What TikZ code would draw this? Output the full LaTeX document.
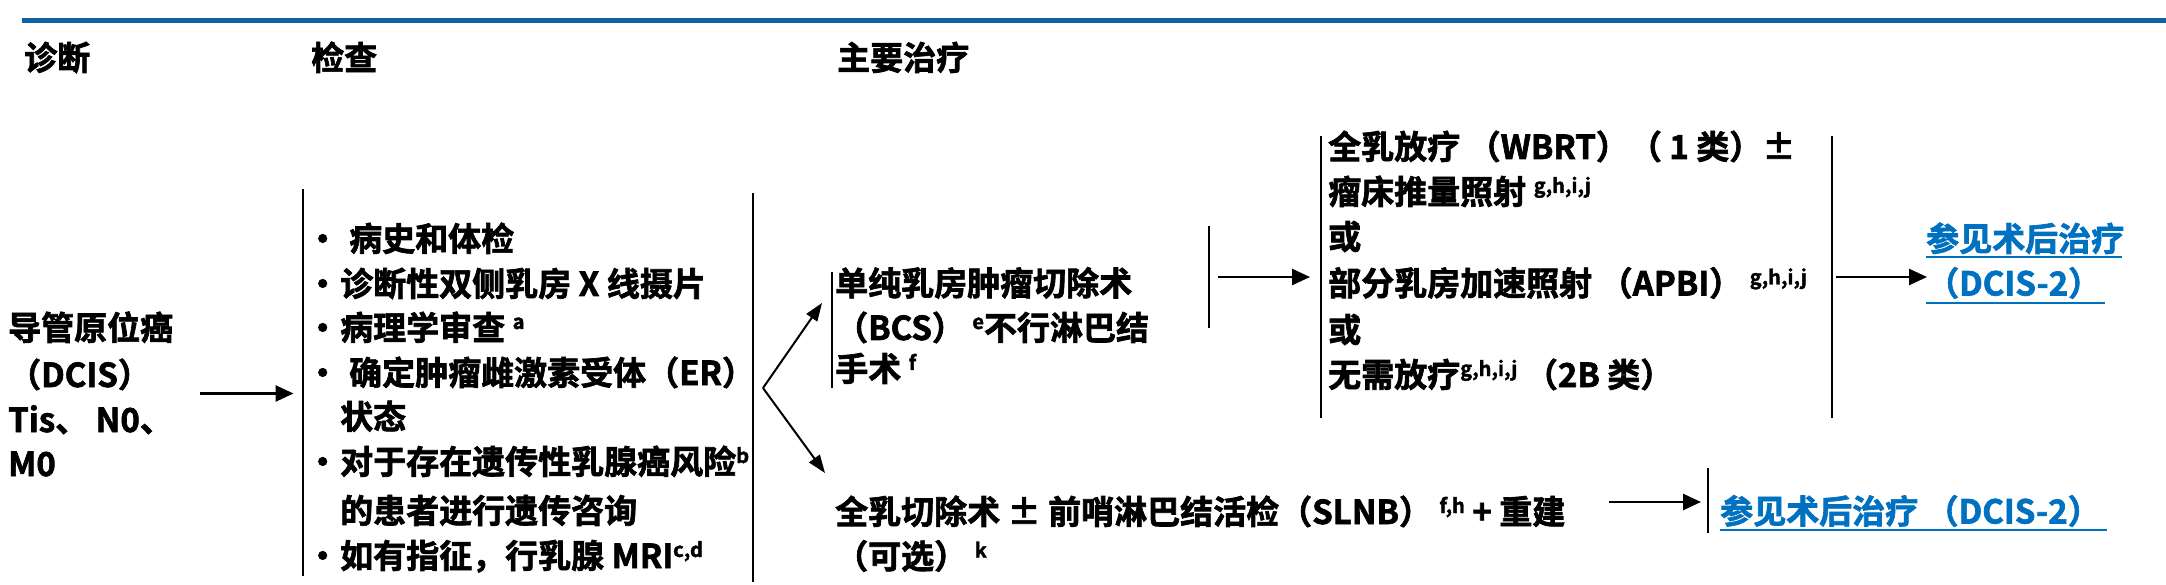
\documentclass[tikz,border=0pt]{standalone}
\usepackage{fontspec}
\setmainfont{Noto Sans CJK SC}[BoldFont={* Bold},BoldFeatures={FakeBold=2}]
\usetikzlibrary{arrows.meta}
\definecolor{topblue}{RGB}{14,98,163}
\definecolor{linkblue}{RGB}{0,112,192}
\newcommand\supr[1]{\raisebox{11pt}{\fontsize{20}{20}\selectfont #1}}
\newcommand\bul{\makebox[24pt][l]{\hspace{-10pt}•}}
\begin{document}
\begin{tikzpicture}[x=1pt,y=-1pt,
  txt/.style={anchor=base west,inner sep=0pt,font=\bfseries\fontsize{33}{45}\selectfont},
  link/.style={txt,text=linkblue},
  bar/.style={line width=2pt,draw=black},
  ul/.style={line width=2pt,draw=linkblue},
  arr/.style={line width=2.6pt,-{Triangle[length=18pt,width=16pt]}},
  brarr/.style={line width=2pt,-{Triangle[length=18pt,width=13pt]}}]
\useasboundingbox (0,0) rectangle (2166,585);
% top rule
\coordinate (tl) at (22,21);
\coordinate (tr) at (2166,21);
\draw[line width=5pt,topblue] (tl) -- (tr);
% headers
\node[txt] (h1) at (24,70) {诊断};
\node[txt] (h2) at (311,70) {检查};
\node[txt] (h3) at (837,70) {主要治疗};
% diagnosis
\node[txt] (d1) at (8,340) {导管原位癌};
\node[txt] (d2) at (8,387) {（DCIS）};
\node[txt] (d3) at (8,432) {Tis、 N0、};
\node[txt] (d4) at (8,476) {M0};
% workup box
\coordinate (wl1) at (302.5,189); \coordinate (wl2) at (302.5,576);
\coordinate (wr1) at (753,193); \coordinate (wr2) at (753,582);
\draw[bar] (wl1) -- (wl2);
\draw[bar] (wr1) -- (wr2);
\node[txt] (e1) at (316,251) {\bul{}\hspace{9pt}病史和体检};
\node[txt] (e2) at (316,296) {\bul{}诊断性双侧乳房 X 线摄片};
\node[txt] (e3) at (316,340) {\bul{}病理学审查 \supr{a}};
\node[txt] (e4) at (316,385) {\bul{}\hspace{9pt}确定肿瘤雌激素受体（ER）};
\node[txt] (e5) at (340,429) {状态};
\node[txt] (e6) at (316,474) {\bul{}对于存在遗传性乳腺癌风险\supr{b}};
\node[txt] (e7) at (340,523) {的患者进行遗传咨询};
\node[txt] (e8) at (316,568) {\bul{}如有指征，行乳腺 MRI\supr{c,d}};
% arrow diagnosis -> workup
\coordinate (a1s) at (200,393.5); \coordinate (a1e) at (293.5,393.5);
\draw[arr] (a1s) -- (a1e);
% branch
\coordinate (bv) at (763,388);
\coordinate (bu) at (822,303);
\coordinate (bd) at (825,473);
\draw[brarr] (bv) -- (bu);
\draw[brarr] (bv) -- (bd);
% BCS block
\coordinate (bb1) at (832,272); \coordinate (bb2) at (832,388);
\draw[bar] (bb1) -- (bb2);
\node[txt] (b1) at (835,295.5) {单纯乳房肿瘤切除术};
\node[txt] (b2) at (835,340) {（BCS） \supr{e}不行淋巴结};
\node[txt] (b3) at (835,381) {手术 \supr{f}};
\coordinate (br1) at (1209,226); \coordinate (br2) at (1209,328);
\draw[bar] (br1) -- (br2);
\coordinate (a2s) at (1218,277); \coordinate (a2e) at (1310,277);
\draw[arr] (a2s) -- (a2e);
% radiotherapy block
\coordinate (rl1) at (1321,136); \coordinate (rl2) at (1321,418);
\coordinate (rr1) at (1832,136); \coordinate (rr2) at (1832,418);
\draw[bar] (rl1) -- (rl2);
\draw[bar] (rr1) -- (rr2);
\node[txt] (r1) at (1328,159) {全乳放疗 （WBRT）（ 1 类）±};
\node[txt] (r2) at (1328,204) {瘤床推量照射 \supr{g,h,i,j}};
\node[txt] (r3) at (1328,249) {或};
\node[txt] (r4) at (1328,295.5) {部分乳房加速照射 （APBI） \supr{g,h,i,j}};
\node[txt] (r5) at (1328,342) {或};
\node[txt] (r6) at (1328,387) {无需放疗\supr{g,h,i,j} （2B 类）};
\coordinate (a3s) at (1836,277); \coordinate (a3e) at (1927,277);
\draw[arr] (a3s) -- (a3e);
\node[link] (u1) at (1926,251) {参见术后治疗};
\node[link] (u2) at (1926,295.5) {（DCIS-2）};
\coordinate (ul1a) at (1926,257); \coordinate (ul1b) at (2122,257);
\coordinate (ul2a) at (1926,303); \coordinate (ul2b) at (2105,303);
\draw[ul] (ul1a) -- (ul1b);
\draw[ul] (ul2a) -- (ul2b);
% mastectomy row
\node[txt] (m1) at (835,524) {全乳切除术 ± 前哨淋巴结活检（SLNB） \supr{f,h} + 重建};
\node[txt] (m2) at (835,568.5) {（可选） \supr{k}};
\coordinate (a4s) at (1609,502); \coordinate (a4e) at (1701,502);
\draw[arr] (a4s) -- (a4e);
\coordinate (mb1) at (1708,468); \coordinate (mb2) at (1708,533);
\draw[bar] (mb1) -- (mb2);
\node[link] (u3) at (1720,523.5) {参见术后治疗 （DCIS-2）};
\coordinate (ul3a) at (1720,530); \coordinate (ul3b) at (2107,530);
\draw[ul] (ul3a) -- (ul3b);
\end{tikzpicture}
\end{document}
